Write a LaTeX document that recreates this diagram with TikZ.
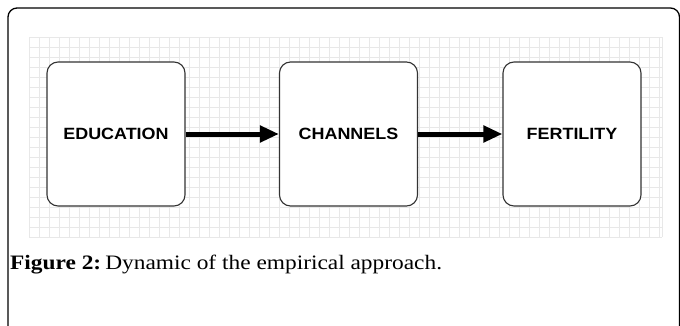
\documentclass[tikz,border=0pt]{standalone}
\usepackage{fontspec}
\setmainfont{Liberation Serif}[FakeStretch=1.14]
\newfontfamily\boxfont{Liberation Sans}[FakeStretch=1.1]
\usetikzlibrary{arrows.meta}
\tikzset{
  stagebox/.style={draw=black!80, line width=1.1pt, fill=white, rounded corners=11pt,
    minimum width=138pt, minimum height=144pt, inner sep=0pt,
    font=\boxfont\bfseries\fontsize{16.3}{18}\selectfont},
  flow/.style={line width=5pt, -{Triangle[length=19pt,width=16pt]}},
  gridline/.style={draw=black!9, line width=0.8pt}
}
\begin{document}
\begin{tikzpicture}[x=1pt,y=1pt]
  \useasboundingbox (0,0) rectangle (680,325);
  % outer frame, open towards the bottom
  \begin{scope}
    \clip (0,0) rectangle (680,325);
    \draw[line width=1.3pt, rounded corners=9pt] (8,-20) -- (8,317) -- (679.5,317) -- (679.5,-20);
  \end{scope}
  % background grid
  \foreach \gx in {29,39,...,659} \draw[gridline] (\gx,88) -- (\gx,288);
  \draw[gridline] (662,88) -- (662,288);
  \foreach \gy in {88,98,...,288} \draw[gridline] (29,\gy) -- (662,\gy);
  % stages
  \node[stagebox] (edu) at (116,191) {EDUCATION};
  \node[stagebox] (chan) at (348.5,191) {CHANNELS};
  \node[stagebox] (fert) at (572,191) {FERTILITY};
  \draw[flow] (edu.east) -- (chan.west);
  \draw[flow] (chan.east) -- (fert.west);
  % caption
  \node[anchor=base west, inner sep=0pt, font=\fontsize{20.5}{23}\selectfont] (cap) at (10,55.5)
    {\textbf{Figure 2:}\hspace{4pt}Dynamic of the empirical approach.};
\end{tikzpicture}
\end{document}
